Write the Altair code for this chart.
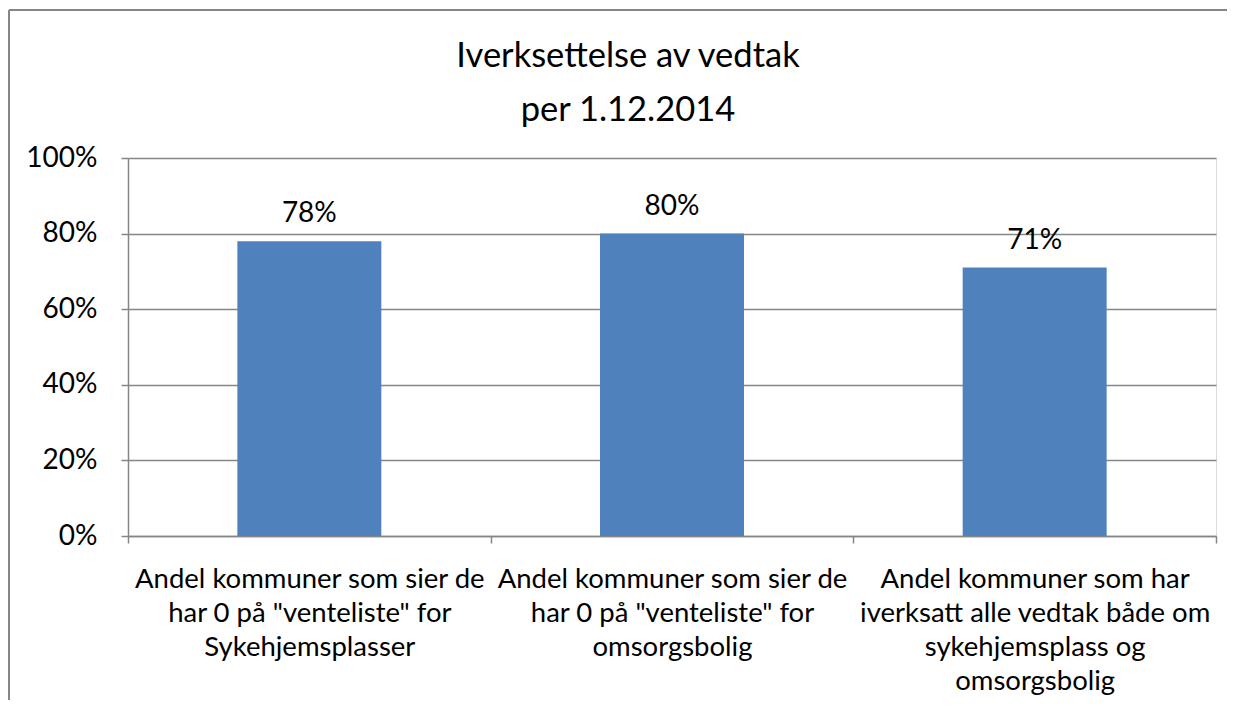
import altair as alt
import pandas as pd

categories = [
    'Andel kommuner som sier de|har 0 på "venteliste" for|Sykehjemsplasser',
    'Andel kommuner som sier de|har 0 på "venteliste" for|omsorgsbolig',
    'Andel kommuner som har|iverksatt alle vedtak både om|sykehjemsplass og|omsorgsbolig',
]
values = [0.78, 0.80, 0.71]
value_labels = ["78%", "80%", "71%"]
y_ticks = [0, 0.2, 0.4, 0.6, 0.8, 1.0]
title_lines = ["Iverksettelse av vedtak", "per 1.12.2014"]

df = pd.DataFrame({"cat": categories, "v": values, "lbl": value_labels})

FONT = "Lato"
GRID = "#868686"
FS = 27.5

x_enc = alt.X(
    "cat:N",
    sort=None,
    scale=alt.Scale(paddingInner=0, paddingOuter=0),
    axis=alt.Axis(
        title=None,
        labelExpr="split(datum.label, '|')",
        labelAngle=0,
        labelAlign="center",
        labelBaseline="top",
        tickBand="extent",
        tickSize=7,
        labelPadding=22,
        labelLimit=0,
        labelFontSize=FS,
        labelLineHeight=34,
        labelFont=FONT,
        labelColor="black",
        domainColor=GRID,
        tickColor=GRID,
        domainWidth=1.5,
        tickWidth=1.5,
    ),
)

y_enc = alt.Y(
    "v:Q",
    scale=alt.Scale(domain=[0, 1]),
    axis=alt.Axis(
        title=None,
        values=y_ticks,
        format=".0%",
        tickSize=7,
        labelPadding=24,
        labelFontSize=28,
        labelFont=FONT,
        labelColor="black",
        domainColor=GRID,
        tickColor=GRID,
        gridColor=GRID,
        domainWidth=1.5,
        tickWidth=1.5,
        gridWidth=1.5,
        grid=True,
    ),
)

bars = alt.Chart(df).mark_bar(
    color="#4F81BD", width=alt.RelativeBandSize(0.397)
).encode(x=x_enc, y=y_enc)

text = alt.Chart(df).mark_text(
    baseline="alphabetic", dy=-19, fontSize=28, font=FONT, color="black"
).encode(x=alt.X("cat:N", sort=None), y=alt.Y("v:Q"), text="lbl:N")

one = pd.DataFrame({"b": [0]})
title_mark = alt.Chart(one).mark_text(
    fontSize=34.5, font=FONT, color="black", align="center", baseline="middle",
    lineHeight=54,
).encode(x=alt.value(500), y=alt.value(-101), text=alt.value(title_lines))

left_border = alt.Chart(one).mark_rule(color=GRID, strokeWidth=2).encode(
    x=alt.value(-119), y=alt.value(-148), y2=alt.value(700)
)
top_border = alt.Chart(one).mark_rule(color=GRID, strokeWidth=2).encode(
    x=alt.value(-119), x2=alt.value(1200), y=alt.value(-148)
)

chart = (
    alt.layer(bars, text, title_mark, left_border, top_border)
    .properties(
        width=1088,
        height=378,
        autosize=alt.AutoSizeParams(type="none"),
        padding={"left": 120, "top": 150, "right": 11, "bottom": 164},
    )
    .configure_view(stroke=None)
    .configure(background="white")
)

chart.save("out.html", embed_options={"renderer": "svg", "actions": False})
